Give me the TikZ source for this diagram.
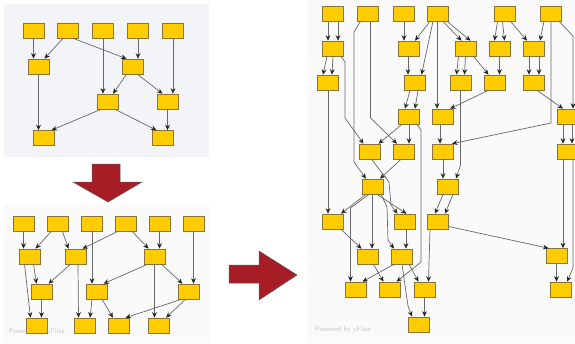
\documentclass[tikz,border=0pt]{standalone}
\usetikzlibrary{arrows.meta}
\definecolor{boxfill}{HTML}{FFCC00}
\definecolor{boxline}{HTML}{8C7436}
\definecolor{edgegray}{HTML}{686868}
\definecolor{bigred}{HTML}{A71D26}
\definecolor{panelgray}{HTML}{F3F4F7}
\definecolor{panellight}{HTML}{FAFAFA}
\begin{document}
\begin{tikzpicture}[x=1pt,y=-1pt,
    box/.style={shape=rectangle,draw=boxline,fill=boxfill,line width=0.6pt,minimum width=21pt,minimum height=15pt,inner sep=0pt},
    arr/.style={draw=edgegray,line width=0.7pt,-{Stealth[length=5.5pt,width=4.8pt,color=black!85]}},
    bigarrow/.style={fill=bigred,draw=black!65,line width=0.5pt},
    stamp/.style={text=black!22,font=\sffamily\fontsize{7}{8}\selectfont,anchor=west,inner sep=0pt}]
    \useasboundingbox (0,0) rectangle (575,343);
    \clip (0,0) rectangle (575,343);

    \fill[panelgray] (4,4) rectangle (209,157);
    \fill[panellight] (4,205) rectangle (210,343);
    \fill[panellight] (308,0) rectangle (575,343);
    \node[stamp] (stampL) at (9,332) {Powered by yFiles};
    \node[stamp] (stampR) at (315,330) {Powered by yFiles};

    \draw[bigarrow] (92,164) -- (120,164) -- (120,182) -- (142,182) -- (108,202) -- (73,182) -- (92,182) -- cycle;
    \draw[bigarrow] (229,265) -- (259,265) -- (259,251) -- (297,275) -- (259,300) -- (259,283) -- (229,283) -- cycle;

    \node[box] (T1) at (33.5,30.5) {};
    \node[box] (T2) at (68,30.5) {};
    \node[box] (T3) at (103,30.5) {};
    \node[box] (T4) at (138,30.5) {};
    \node[box] (T5) at (173,30.5) {};
    \node[box] (A) at (38.5,66.5) {};
    \node[box] (B) at (132.5,66.5) {};
    \node[box] (C) at (108,101.5) {};
    \node[box] (D) at (167.5,101.5) {};
    \node[box] (E) at (43.5,138) {};
    \node[box] (F) at (162.5,138) {};

    \draw[arr] (T1.south) -- (T1.south |- A.north);
    \draw[arr] ([xshift=-5pt]T2.south) -- ([xshift=6pt]A.north);
    \draw[arr] ([xshift=5pt]T2.south) -- ([xshift=-6pt]B.north);
    \draw[arr] (T3.south) -- (T3.south |- C.north);
    \draw[arr] (T4.south) -- (T4.south |- B.north);
    \draw[arr] (T5.south) -- (T5.south |- D.north);
    \draw[arr] ([xshift=-6pt]B.south) -- ([xshift=5pt]C.north);
    \draw[arr] ([xshift=5pt]B.south) -- ([xshift=-5pt]D.north);
    \draw[arr] (A.south) -- (A.south |- E.north);
    \draw[arr] ([xshift=-7pt]C.south) -- ([xshift=8pt]E.north);
    \draw[arr] ([xshift=7pt]C.south) -- ([xshift=-6pt]F.north);
    \draw[arr] (D.south) -- (D.south |- F.north);

    \node[box] (R1) at (23.5,223.5) {};
    \node[box] (R2) at (57.5,223.5) {};
    \node[box] (R3) at (92,223.5) {};
    \node[box] (R4) at (126,223.5) {};
    \node[box] (R5) at (159.5,223.5) {};
    \node[box] (R6) at (193.5,223.5) {};
    \node[box] (G1) at (29.5,256.5) {};
    \node[box] (G2) at (75.5,256.5) {};
    \node[box] (G3) at (154.5,256.5) {};
    \node[box] (H1) at (41.5,291.5) {};
    \node[box] (H2) at (96.5,291.5) {};
    \node[box] (H3) at (188.5,291.5) {};
    \node[box] (K1) at (36.5,325.5) {};
    \node[box] (K2) at (84.5,325.5) {};
    \node[box] (K3) at (118.5,325.5) {};
    \node[box] (K4) at (159,325.5) {};

    \draw[arr] (R1.south) -- (R1.south |- G1.north);
    \draw[arr] ([xshift=-6pt]R2.south) -- ([xshift=6pt]G1.north);
    \draw[arr] ([xshift=5pt]R2.south) -- ([xshift=-7pt]G2.north);
    \draw[arr] ([xshift=-8pt]R4.south) -- ([xshift=7pt]G2.north);
    \draw[arr] ([xshift=6pt]R4.south) -- ([xshift=-6pt]G3.north);
    \draw[arr] (R5.south) -- (R5.south |- G3.north);
    \draw[arr] (R6.south) -- (R6.south |- H3.north);
    \draw[arr] (R3.south) -- (R3.south |- H2.north);
    \draw[arr] ([xshift=4pt]G1.south) -- ([xshift=-5pt]H1.north);
    \draw[arr] ([xshift=-5pt]G1.south) -- ([xshift=-6pt]K1.north);
    \draw[arr] ([xshift=-5pt]G2.south) -- ([xshift=7pt]H1.north);
    \draw[arr] ([xshift=2.5pt]G2.south) -- ([xshift=-6pt]K2.north);
    \draw[arr] ([xshift=-7pt]G3.south) -- ([xshift=7pt]H2.north);
    \draw[arr] ([xshift=7pt]G3.south) -- ([xshift=-6pt]H3.north);
    \draw[arr] (G3.south) -- (G3.south |- K4.north);
    \draw[arr] (H1.south) -- (H1.south |- K1.north);
    \draw[arr] ([xshift=-4.5pt]H2.south) -- ([xshift=5.5pt]K2.north);
    \draw[arr] ([xshift=5.5pt]H2.south) -- ([xshift=-5.5pt]K3.north);
    \draw[arr] ([xshift=-7pt]H3.south) -- ([xshift=7pt]K3.north);
    \draw[arr] ([xshift=-3pt]H3.south) -- ([xshift=7pt]K4.north);

    \node[box] (P1) at (333,13.5) {};
    \node[box] (P2) at (367.5,13.5) {};
    \node[box] (P3) at (404,13.5) {};
    \node[box] (P4) at (438,13.5) {};
    \node[box] (P5) at (504.5,13.5) {};
    \node[box] (P6) at (551,13.5) {};
    \node[box] (Q1) at (333,48.5) {};
    \node[box] (Q2) at (409,48.5) {};
    \node[box] (Q3) at (465.5,48.5) {};
    \node[box] (Q4) at (499.5,48.5) {};
    \node[box] (Q5) at (534,48.5) {};
    \node[box] (S1) at (328,82.5) {};
    \node[box] (S2) at (414.5,82.5) {};
    \node[box] (S3) at (460.5,82.5) {};
    \node[box] (S4) at (494.5,82.5) {};
    \node[box] (S5) at (534,82.5) {};
    \node[box] (U1) at (409,116.5) {};
    \node[box] (U2) at (443,116.5) {};
    \node[box] (U3) at (568,116.5) {};
    \node[box] (V1) at (369.5,151.5) {};
    \node[box] (V2) at (404,151.5) {};
    \node[box] (V3) at (443,151.5) {};
    \node[box] (V4) at (568,151.5) {};
    \node[box] (W1) at (373,186.5) {};
    \node[box] (W2) at (448,186.5) {};
    \node[box] (X1) at (333,221.5) {};
    \node[box] (X2) at (404.5,221.5) {};
    \node[box] (X3) at (438,221.5) {};
    \node[box] (Y1) at (367.5,256.5) {};
    \node[box] (Y2) at (402,256.5) {};
    \node[box] (Y3) at (556.5,256) {};
    \node[box] (Z1) at (355.5,289.5) {};
    \node[box] (Z2) at (389.5,289.5) {};
    \node[box] (Z3) at (424.5,289.5) {};
    \node[box] (Z4) at (561,289.5) {};
    \node[box] (N1) at (419,324.5) {};

    \draw[arr] ([xshift=-5pt]P1.south) -- ([xshift=-5pt]Q1.north);
    \draw[arr] ([xshift=5pt]P1.south) -- ([xshift=5pt]Q1.north);
    \draw[arr] ([xshift=-6pt]Q1.south) -- ([xshift=-5pt]S1.north);
    \draw[arr] (Q1.south) -- ([xshift=4pt]S1.north);
    \draw[arr] ([xshift=8pt]Q1.south) -- (345,62) -- (345,118) -- ([xshift=-6pt]V1.north);
    \draw[arr] (S1.south) -- (S1.south |- X1.north);
    \draw[arr] ([xshift=-7pt]P2.south) -- (354,32) -- (354,162) -- ([xshift=-7pt]W1.north);
    \draw[arr] ([xshift=3pt]P2.south) -- (370.5,118) -- ([xshift=-7pt]V2.north);
    \draw[arr] (P3.south) -- (P3.south |- Q2.north);
    \draw[arr] ([xshift=-8pt]P4.south) -- ([xshift=6pt]Q2.north);
    \draw[arr] ([xshift=-5pt]P4.south) -- ([xshift=7pt]S2.north);
    \draw[arr] ([xshift=-1pt]P4.south) -- ([xshift=-6pt]U2.north);
    \draw[arr] ([xshift=5pt]P4.south) -- ([xshift=-4pt]Q3.north);
    \draw[arr] ([xshift=9pt]P4.south) -- ([xshift=5pt]Q3.north);
    \draw[arr] ([xshift=-7pt]P5.south) -- ([xshift=-5pt]Q4.north);
    \draw[arr] ([xshift=-2pt]P5.south) -- ([xshift=5pt]Q4.north);
    \draw[arr] ([xshift=6pt]P5.south) -- ([xshift=-7pt]Q5.north);
    \draw[arr] ([xshift=-7pt]P6.south) -- ([xshift=6pt]Q5.north);
    \draw[arr] (P6.south) -- (551,123) -- ([xshift=9pt]V3.north);
    \draw[arr] ([xshift=8pt]P6.south) -- (573,36) -- ([xshift=5pt]U3.north);
    \draw[arr] ([xshift=-7pt]Q3.south) -- ([xshift=-4pt]S3.north);
    \draw[arr] (Q3.south) -- ([xshift=4pt]S3.north);
    \draw[arr] ([xshift=8pt]Q3.south) -- ([xshift=-6pt]S4.north);
    \draw[arr] (Q4.south) -- (Q4.south |- S4.north);
    \draw[arr] ([xshift=-5pt]Q5.south) -- ([xshift=-5pt]S5.north);
    \draw[arr] ([xshift=5pt]Q5.south) -- ([xshift=5pt]S5.north);
    \draw[arr] ([xshift=-1pt]Q2.south) -- ([xshift=-6.5pt]S2.north);
    \draw[arr] ([xshift=-4.5pt]S2.south) -- ([xshift=-4pt]U1.north);
    \draw[arr] ([xshift=3.5pt]S2.south) -- ([xshift=6pt]U1.north);
    \draw[arr] (S3.south) -- (460.5,165) -- ([xshift=8pt]W2.north);
    \draw[arr] ([xshift=-6pt]S4.south) -- ([xshift=7pt]U2.north);
    \draw[arr] ([xshift=3pt]S5.south) -- ([xshift=-5pt]U3.north);
    \draw[arr] ([xshift=-7pt]U1.south) -- ([xshift=9pt]V1.north);
    \draw[arr] (U1.south) -- (U1.south |- V2.north);
    \draw[arr] ([xshift=8pt]U1.south) -- (421,130) -- (421,262) -- ([xshift=7pt]Z2.north);
    \draw[arr] ([xshift=-3pt]U2.south) -- ([xshift=-3pt]V3.north);
    \draw[arr] ([xshift=-5pt]U3.south) -- ([xshift=-5pt]V4.north);
    \draw[arr] ([xshift=4pt]U3.south) -- ([xshift=4pt]V4.north);
    \draw[arr] ([xshift=2pt]V1.south) -- (389,182) -- (391,205) -- ([xshift=-7pt]X2.north);
    \draw[arr] ([xshift=-3pt]V2.south) -- ([xshift=7pt]W1.north);
    \draw[arr] (V3.south) -- ([xshift=-5pt]W2.north);
    \draw[arr] ([xshift=-5pt]V4.south) -- ([xshift=6.5pt]Y3.north);
    \draw[arr] ([xshift=5pt]V4.south) -- (573,268) -- ([xshift=6pt]Z4.north);
    \draw[arr] ([xshift=-7pt]W1.south) -- ([xshift=8pt]X1.north);
    \draw[arr] ([xshift=-4pt]W1.south) -- (350.5,208) -- ([xshift=-5pt]Z1.north);
    \draw[arr] ([xshift=-1pt]W1.south) -- ([xshift=4.5pt]Y1.north);
    \draw[arr] ([xshift=4pt]W1.south) -- ([xshift=2pt]X2.north);
    \draw[arr] ([xshift=8pt]W1.south) -- (387,207) -- (388,240) -- ([xshift=-8pt]Y2.north);
    \draw[arr] ([xshift=-5pt]W2.south) -- ([xshift=-3pt]X3.north);
    \draw[arr] ([xshift=5pt]W2.south) -- ([xshift=7pt]X3.north);
    \draw[arr] ([xshift=8pt]X1.south) -- ([xshift=-6pt]Y1.north);
    \draw[arr] ([xshift=1.5pt]X2.south) -- ([xshift=4pt]Y2.north);
    \draw[arr] ([yshift=-5pt]X3.east) -- ([xshift=-8pt]Y3.north);
    \draw[arr] ([xshift=-8pt]X3.south) -- ([xshift=4pt]Z3.north);
    \draw[arr] ([xshift=6pt]Y1.south) -- ([xshift=-6pt]Z2.north);
    \draw[arr] ([xshift=-8pt]Y2.south) -- ([xshift=7pt]Z1.north);
    \draw[arr] ([xshift=7pt]Y2.south) -- ([xshift=-6pt]Z3.north);
    \draw[arr] (Y2.south) -- (408,306) -- ([xshift=-7pt]N1.north);
    \draw[arr] (Y3.south) -- (Y3.south |- Z4.north);
    \draw[arr] (Z3.south) -- (Z3.south |- N1.north);

\end{tikzpicture}
\end{document}
